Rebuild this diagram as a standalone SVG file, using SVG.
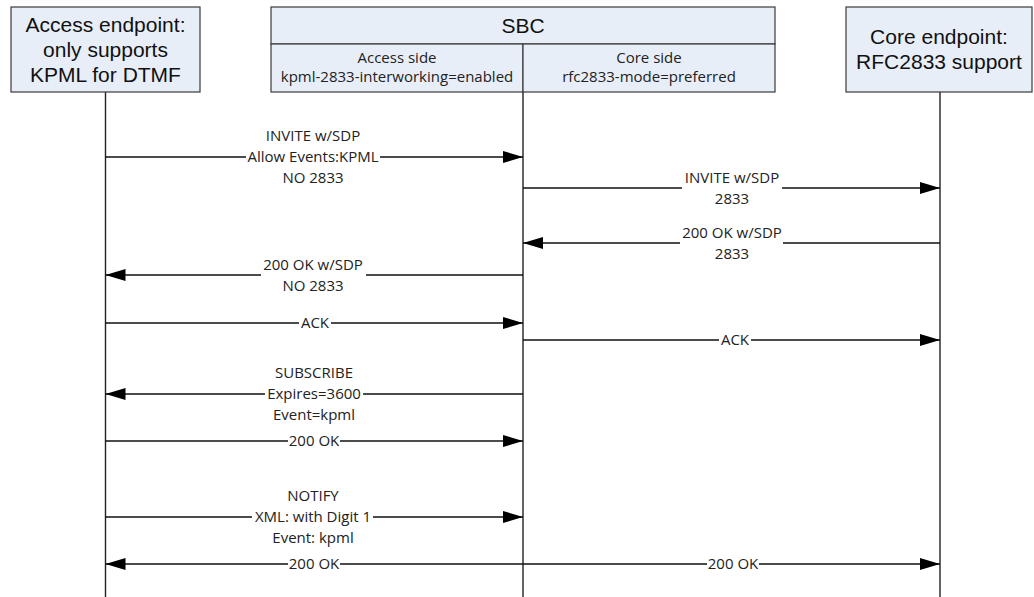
<svg xmlns="http://www.w3.org/2000/svg" width="1034" height="597" viewBox="0 0 1034 597">
<defs>
<style>
.box{fill:#e8eef8;stroke:#3a3a3a;stroke-width:1.2}
.big{font-family:"Liberation Sans",Arial,sans-serif;font-size:21px;fill:#111;text-anchor:middle}
.sm{font-family:"Open Sans","Noto Sans",sans-serif;font-size:15px;fill:#222;text-anchor:middle}
.life{stroke:#222;stroke-width:1.4;fill:none}
.msg{stroke:#111;stroke-width:1.4;fill:none}
.msg.r{marker-end:url(#ah)}
.msg.l{marker-end:url(#ah)}
.msg.b{marker-start:url(#ahs);marker-end:url(#ah)}
.lbg{fill:#fff}
</style>
<marker id="ah" markerUnits="userSpaceOnUse" markerWidth="22" markerHeight="14" refX="20" refY="6" orient="auto">
<path d="M0,0 L20,6 L0,12 Z" fill="#000"/>
</marker>
<marker id="ahs" markerUnits="userSpaceOnUse" markerWidth="22" markerHeight="14" refX="20" refY="6" orient="auto-start-reverse">
<path d="M0,0 L20,6 L0,12 Z" fill="#000"/>
</marker>
</defs>
<rect width="1034" height="597" fill="#fff"/>

<g id="lifelines">
<line class="life" x1="105.5" y1="92" x2="105.5" y2="597"/>
<line class="life" x1="523" y1="92" x2="523" y2="597"/>
<line class="life" x1="940" y1="92" x2="940" y2="597"/>
</g>

<g id="access-endpoint">
<rect class="box" x="11" y="7" width="189" height="85"/>
<text class="big" x="105.5" y="32">Access endpoint:</text>
<text class="big" x="105.5" y="57">only supports</text>
<text class="big" x="105.5" y="82">KPML for DTMF</text>
</g>

<g id="sbc">
<rect class="box" x="271" y="7" width="504" height="37"/>
<rect class="box" x="271" y="44" width="252" height="48"/>
<rect class="box" x="523" y="44" width="252" height="48"/>
<text class="big" x="523" y="33">SBC</text>
<text class="sm" x="397" y="63">Access side</text>
<text class="sm" x="397" y="82">kpml-2833-interworking=enabled</text>
<text class="sm" x="649" y="63">Core side</text>
<text class="sm" x="649" y="82">rfc2833-mode=preferred</text>
</g>

<g id="core-endpoint">
<rect class="box" x="846" y="7" width="186" height="85"/>
<text class="big" x="939" y="44">Core endpoint:</text>
<text class="big" x="939" y="69">RFC2833 support</text>
</g>

<g id="connectors">
<!-- 1 INVITE access -->
<line class="msg r" x1="105.5" y1="157" x2="523" y2="157"/>
<rect class="lbg" x="246" y="149" width="134" height="16"/>
<text class="sm" x="313" y="141">INVITE w/SDP</text>
<text class="sm" x="313" y="162">Allow Events:KPML</text>
<text class="sm" x="313" y="183">NO 2833</text>

<!-- 2 INVITE core -->
<line class="msg r" x1="523" y1="188" x2="940" y2="188"/>
<rect class="lbg" x="682" y="180" width="100" height="16"/>
<text class="sm" x="732" y="183">INVITE w/SDP</text>
<text class="sm" x="732" y="204">2833</text>

<!-- 3 200 OK core -->
<line class="msg l" x1="940" y1="243" x2="523" y2="243"/>
<rect class="lbg" x="680" y="235" width="103" height="16"/>
<text class="sm" x="732" y="238">200 OK w/SDP</text>
<text class="sm" x="732" y="259">2833</text>

<!-- 4 200 OK access -->
<line class="msg l" x1="523" y1="275" x2="105.5" y2="275"/>
<rect class="lbg" x="261" y="267" width="105" height="16"/>
<text class="sm" x="313" y="270">200 OK w/SDP</text>
<text class="sm" x="313" y="291">NO 2833</text>

<!-- 5 ACK access -->
<line class="msg r" x1="105.5" y1="323" x2="523" y2="323"/>
<rect class="lbg" x="299" y="315" width="32" height="16"/>
<text class="sm" x="315" y="328">ACK</text>

<!-- 6 ACK core -->
<line class="msg r" x1="523" y1="340" x2="940" y2="340"/>
<rect class="lbg" x="719" y="332" width="32" height="16"/>
<text class="sm" x="735" y="345">ACK</text>

<!-- 7 SUBSCRIBE -->
<line class="msg l" x1="523" y1="394" x2="105.5" y2="394"/>
<rect class="lbg" x="265" y="386" width="98" height="16"/>
<text class="sm" x="314" y="378">SUBSCRIBE</text>
<text class="sm" x="314" y="399">Expires=3600</text>
<text class="sm" x="314" y="420">Event=kpml</text>

<!-- 8 200 OK -->
<line class="msg r" x1="105.5" y1="441" x2="523" y2="441"/>
<rect class="lbg" x="288" y="433" width="52" height="16"/>
<text class="sm" x="314" y="446">200 OK</text>

<!-- 9 NOTIFY -->
<line class="msg r" x1="105.5" y1="517" x2="523" y2="517"/>
<rect class="lbg" x="252" y="509" width="121" height="16"/>
<text class="sm" x="313" y="501">NOTIFY</text>
<text class="sm" x="313" y="522">XML: with Digit 1</text>
<text class="sm" x="313" y="543">Event: kpml</text>

<!-- 10 200 OK both -->
<line class="msg b" x1="105.5" y1="564" x2="940" y2="564"/>
<rect class="lbg" x="288" y="556" width="52" height="16"/>
<text class="sm" x="314" y="569">200 OK</text>
<rect class="lbg" x="707" y="556" width="52" height="16"/>
<text class="sm" x="733" y="569">200 OK</text>
</g>
</svg>
